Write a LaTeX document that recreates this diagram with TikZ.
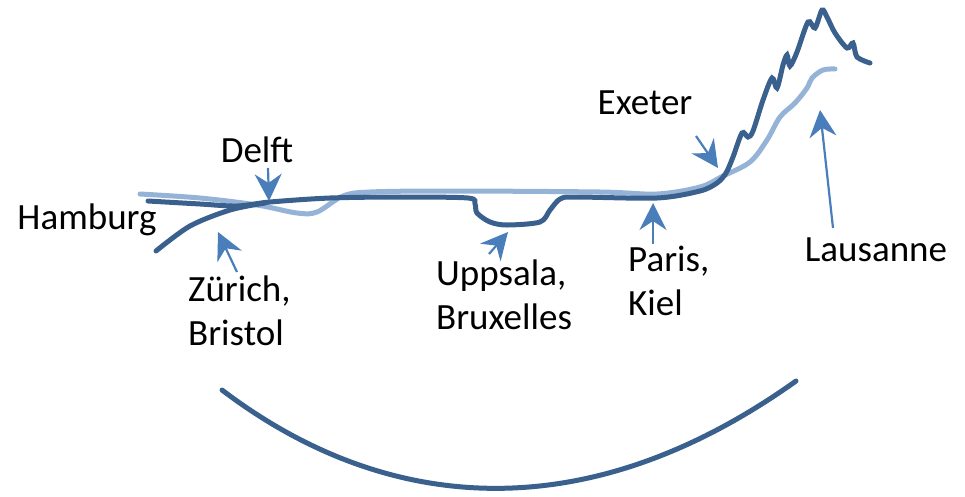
\documentclass[tikz,border=0pt]{standalone}
\usepackage{fontspec}
\setmainfont{Carlito}
\usetikzlibrary{arrows.meta,positioning}

\definecolor{darkline}{RGB}{58,96,142}
\definecolor{lightline}{RGB}{149,179,215}
\definecolor{arrowblue}{RGB}{74,126,187}

\begin{document}
\begin{tikzpicture}[
  x=1pt, y=-1pt,
  city/.style={align=left, inner sep=0pt, font=\fontsize{37}{44}\selectfont},
  dark/.style={draw=darkline, line width=5pt, line cap=round},
  light/.style={draw=lightline, line width=5pt, line cap=round},
  arr/.style={draw=arrowblue, line width=2.2pt, -{Stealth[length=27pt, width=27pt, inset=9pt]}}
]
\useasboundingbox (0,0) rectangle (965,496);

% the two profiles
\draw[light] plot[smooth, tension=0.55] coordinates {(140,194) (200,198) (257,205) (297,213) (317,212) (343,196) (370,192) (450,191) (600,192) (657,194) (700,187) (723,176) (750,162) (767,140) (780,117) (795,103) (807,88) (812,78) (823,70) (835,69)};
\draw[dark] plot[smooth, tension=0.5] coordinates {(148,201) (200,204) (237,206) (270,202) (330,198) (400,197) (468,198) (475,204) (477,213) (490,222) (507,225) (540,222) (550,210) (560,199) (575,197) (657,198) (700,191) (717,183) (726,173) (733,157) (742,133) (748,137) (753,131) (763,100) (772,78) (777,88) (783,65) (787,55) (790,66) (797,52) (808,22) (815,28) (822,10) (827,17) (835,33) (847,48) (853,43) (857,57) (870,63)};
\draw[dark] plot[smooth, tension=0.5] coordinates {(156,251) (190,226) (230,210) (265,203)};
\draw[dark] (222,390) .. controls (380,510) and (580,535) .. (796,381);

% labels
\node[city] (hamburg) at (87,220) {Hamburg};
\node[city] (delft) at (257,150) {Delft};
\node[city, anchor=north west] (zurich) at (188,276) {Zürich,\\Bristol};
\node[city, anchor=north west] (uppsala) at (436,260) {Uppsala,\\Bruxelles};
\node[city, anchor=north west] (paris) at (628,246) {Paris,\\Kiel};
\node[city] (exeter) at (645,103) {Exeter};
\node[city] (lausanne) at (876,250) {Lausanne};

% arrow ends
\coordinate (delftA) at (268,168);   \coordinate (delftB) at (269,201);
\coordinate (zurichA) at (237,272);  \coordinate (zurichB) at (218,232);
\coordinate (uppsalaA) at (489,254); \coordinate (uppsalaB) at (508,232);
\coordinate (parisA) at (653,244);   \coordinate (parisB) at (653,203);
\coordinate (exeterA) at (696,136);  \coordinate (exeterB) at (718,168);
\coordinate (lausA) at (833,228);    \coordinate (lausB) at (820,110);

\draw[arr] (delftA) -- (delftB);
\draw[arr] (zurichA) -- (zurichB);
\draw[arr] (uppsalaA) -- (uppsalaB);
\draw[arr] (parisA) -- (parisB);
\draw[arr] (exeterA) -- (exeterB);
\draw[arr] (lausA) -- (lausB);

\end{tikzpicture}
\end{document}
